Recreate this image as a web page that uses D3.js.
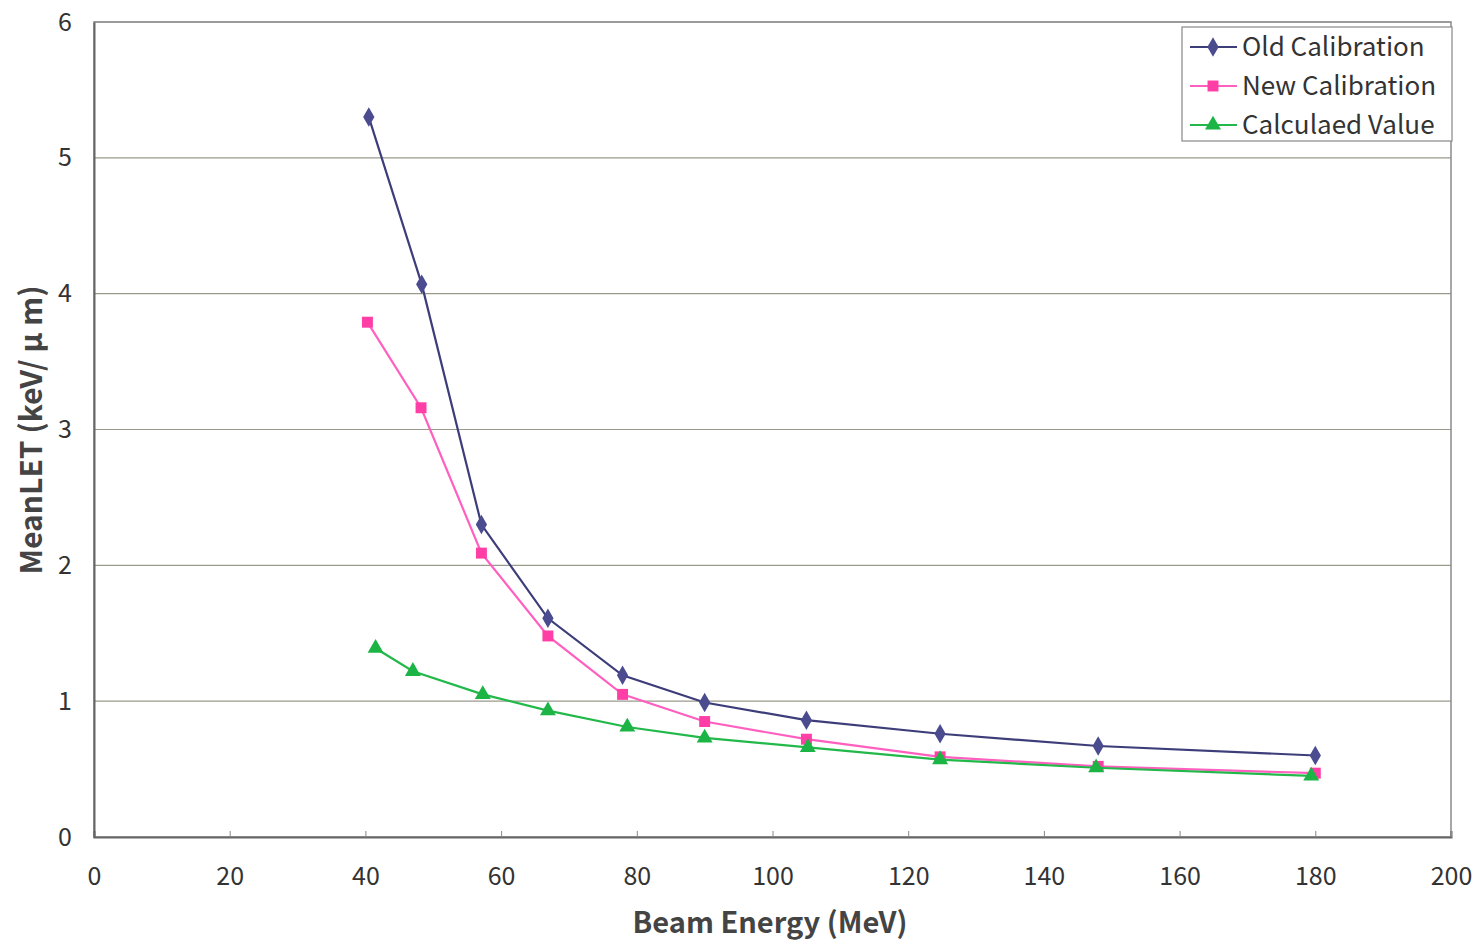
<!DOCTYPE html>
<html>
<head>
<meta charset="utf-8">
<script src="https://cdn.jsdelivr.net/npm/d3@7"></script>
<style>
  body { margin: 0; background: #fff; }
  text { font-family: "Noto Sans CJK JP", "Liberation Sans", sans-serif; fill: #333; }
</style>
</head>
<body>
<svg id="chart" width="1481" height="947"></svg>
<script>
// Beam energy (MeV) and mean LET (keV/um)
const oldX = [40.5, 48.3, 57.1, 66.9, 77.9, 90.0, 105.0, 124.7, 148.0, 180.0];
const oldY = [5.30, 4.07, 2.30, 1.61, 1.19, 0.99, 0.86, 0.76, 0.67, 0.60];
const newX = [40.3, 48.2, 57.1, 66.9, 77.9, 90.0, 105.0, 124.7, 148.0, 180.0];
const newY = [3.79, 3.16, 2.09, 1.48, 1.05, 0.85, 0.72, 0.59, 0.52, 0.47];
const calcX = [41.5, 47.0, 57.3, 66.9, 78.6, 90.0, 105.2, 124.7, 147.7, 179.4];
const calcY = [1.39, 1.22, 1.05, 0.93, 0.81, 0.73, 0.66, 0.57, 0.51, 0.45];

const xTicks = [0, 20, 40, 60, 80, 100, 120, 140, 160, 180, 200];
const yTicks = [0, 1, 2, 3, 4, 5, 6];

const series = [
  { name: "Old Calibration", xs: oldX, ys: oldY, line: "#3d3d7a", fill: "#4b4b8f", shape: d3.symbolDiamond, size: 110 },
  { name: "New Calibration", xs: newX, ys: newY, line: "#ff5fbf", fill: "#ff3fa6", shape: d3.symbolSquare, size: 120 },
  { name: "Calculaed Value", xs: calcX, ys: calcY, line: "#22b84a", fill: "#1db446", shape: d3.symbolTriangle, size: 110 }
];

const svg = d3.select("#chart");
const mLeft = 94, mRight = 1451, mTop = 22, mBottom = 837;

const x = d3.scaleLinear().domain([0, 200]).range([mLeft, mRight]);
const y = d3.scaleLinear().domain([0, 6]).range([mBottom, mTop]);

// gridlines
svg.append("g")
  .selectAll("line")
  .data(yTicks.slice(1))
  .enter().append("line")
  .attr("x1", mLeft).attr("x2", mRight)
  .attr("y1", d => y(d)).attr("y2", d => y(d))
  .attr("stroke", "#9a9a8c")
  .attr("stroke-width", 1.2);

// plot border
svg.append("rect")
  .attr("x", mLeft).attr("y", mTop)
  .attr("width", mRight - mLeft).attr("height", mBottom - mTop)
  .attr("fill", "none")
  .attr("stroke", "#8a8a8a")
  .attr("stroke-width", 1.5);

// x axis
const xAxis = svg.append("g")
  .attr("transform", `translate(0,${mBottom})`)
  .call(d3.axisBottom(x).tickValues(xTicks).tickFormat(d3.format("d")).tickSize(-6).tickPadding(30));
xAxis.select(".domain").attr("stroke", "#666").attr("stroke-width", 2);
xAxis.selectAll(".tick line").attr("stroke", "#888");
xAxis.selectAll("text").style("font-size", "25px").style("fill", "#333");

// y axis
const yAxis = svg.append("g")
  .attr("transform", `translate(${mLeft},0)`)
  .call(d3.axisLeft(y).tickValues(yTicks).tickFormat(d3.format("d")).tickSize(0).tickPadding(22));
yAxis.select(".domain").attr("stroke", "#666").attr("stroke-width", 2);
yAxis.selectAll("text").style("font-size", "25px").style("fill", "#333");

// axis titles
svg.append("text")
  .attr("x", 770).attr("y", 933)
  .attr("text-anchor", "middle")
  .style("font-size", "29px")
  .style("font-weight", "bold")
  .style("fill", "#444")
  .text("Beam Energy (MeV)");

svg.append("text")
  .attr("transform", "translate(42,430) rotate(-90)")
  .attr("text-anchor", "middle")
  .style("font-size", "30px")
  .style("font-weight", "bold")
  .style("fill", "#444")
  .text("MeanLET (keV/ μ m)");

// lines and markers
const line = d3.line().x(d => x(d[0])).y(d => y(d[1]));

series.forEach(s => {
  const pts = s.xs.map((v, i) => [v, s.ys[i]]);
  svg.append("path")
    .datum(pts)
    .attr("d", line)
    .attr("fill", "none")
    .attr("stroke", s.line)
    .attr("stroke-width", 2.2);
  svg.append("g")
    .selectAll("path")
    .data(pts)
    .enter().append("path")
    .attr("transform", d => `translate(${x(d[0])},${y(d[1])})`)
    .attr("d", d3.symbol().type(s.shape).size(s.size))
    .attr("fill", s.fill);
});

// legend
const lg = svg.append("g").attr("transform", "translate(1182,27)");
lg.append("rect")
  .attr("width", 270).attr("height", 114)
  .attr("fill", "#fff")
  .attr("stroke", "#888")
  .attr("stroke-width", 1.2);
series.forEach((s, i) => {
  const cy = 20 + i * 39;
  lg.append("line")
    .attr("x1", 8).attr("x2", 55)
    .attr("y1", cy).attr("y2", cy)
    .attr("stroke", s.line).attr("stroke-width", 2.2);
  lg.append("path")
    .attr("transform", `translate(31,${cy})`)
    .attr("d", d3.symbol().type(s.shape).size(s.size))
    .attr("fill", s.fill);
  lg.append("text")
    .attr("x", 60).attr("y", cy + 9)
    .style("font-size", "26px")
    .style("fill", "#333")
    .text(s.name);
});
</script>
</body>
</html>
